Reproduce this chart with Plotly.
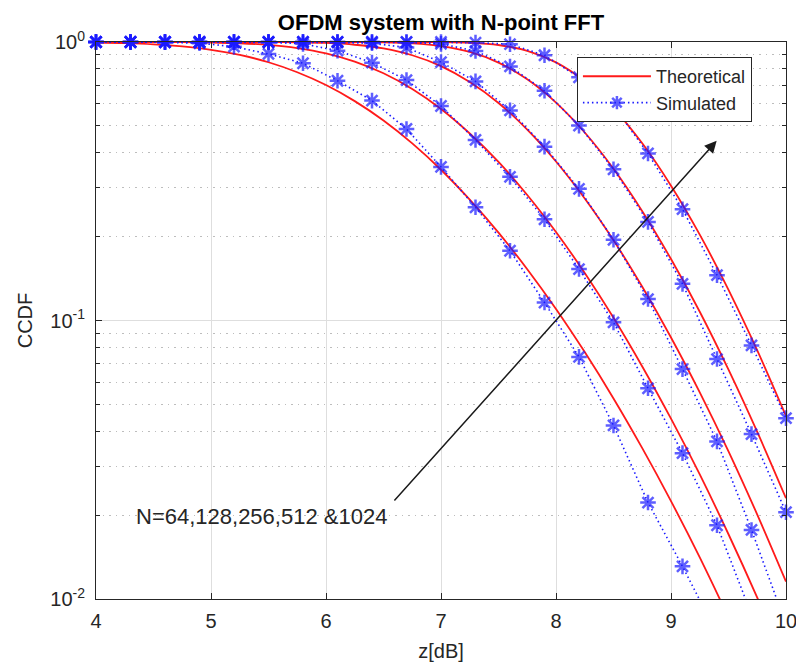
import plotly.graph_objects as go

# ---------------- data ----------------
z_theory = [4.0, 4.25, 4.5, 4.75, 5.0, 5.25, 5.5, 5.75, 6.0, 6.25, 6.5, 6.75, 7.0,
            7.25, 7.5, 7.75, 8.0, 8.25, 8.5, 8.75, 9.0, 9.25, 9.5, 9.75, 10.0]

theory_64 = [0.9955, 0.9903, 0.9806, 0.9637, 0.9371, 0.8984, 0.8459, 0.7787, 0.7006,
             0.6134, 0.5225, 0.4324, 0.3478, 0.2715, 0.2068, 0.1528, 0.1100, 0.0770,
             0.0525, 0.0348, 0.02246, 0.01411, 0.00857, 0.00507, 0.00290]
theory_128 = [1.0, 0.9999, 0.9996, 0.9987, 0.9960, 0.9897, 0.9763, 0.9511, 0.9105,
              0.8505, 0.7720, 0.6779, 0.5747, 0.4693, 0.3709, 0.2822, 0.2078, 0.1481,
              0.1023, 0.0684, 0.0444, 0.0280, 0.01708, 0.01011, 0.00579]
theory_256 = [1.0, 1.0, 1.0, 1.0, 1.0, 0.9999, 0.9994, 0.9976, 0.9920, 0.9777, 0.9481,
              0.8963, 0.8192, 0.7184, 0.6042, 0.4847, 0.3724, 0.2742, 0.1941, 0.1321,
              0.0869, 0.0552, 0.0339, 0.0201, 0.01155]
theory_512 = [1.0, 1.0, 1.0, 1.0, 1.0, 1.0, 1.0, 1.0, 0.9999, 0.9995, 0.9973, 0.9892,
              0.9673, 0.9207, 0.8433, 0.7345, 0.6062, 0.4732, 0.3505, 0.2468, 0.1662,
              0.1075, 0.0666, 0.0398, 0.0230]
theory_1024 = [1.0, 1.0, 1.0, 1.0, 1.0, 1.0, 1.0, 1.0, 1.0, 1.0, 1.0, 0.9999, 0.9989,
               0.9937, 0.9755, 0.9295, 0.8449, 0.7225, 0.5782, 0.4327, 0.3048, 0.2033,
               0.1288, 0.0781, 0.0454]

z_sim = [4.0, 4.3, 4.6, 4.9, 5.2, 5.5, 5.8, 6.1, 6.4, 6.7, 7.0, 7.3, 7.6, 7.9, 8.2,
         8.5, 8.8, 9.1, 9.4, 9.7, 10.0]

sim_64 = [1.0, 1.0, 0.998, 0.99, 0.962, 0.906, 0.839, 0.726, 0.616, 0.487, 0.356,
          0.255, 0.178, 0.116, 0.074, 0.042, 0.0222, 0.0131, 0.0075, 0.0036, 0.0017]
sim_128 = [1.0, 1.0, 1.0, 1.0, 0.999, 0.997, 0.985, 0.931, 0.843, 0.730, 0.589,
           0.445, 0.328, 0.231, 0.153, 0.0985, 0.0571, 0.0334, 0.0184, 0.0089, 0.0042]
sim_256 = [1.0, 1.0, 1.0, 1.0, 1.0, 1.0, 1.0, 0.998, 0.99, 0.955, 0.847, 0.722,
           0.568, 0.421, 0.297, 0.195, 0.1194, 0.0669, 0.0368, 0.0177, 0.0081]
sim_512 = [1.0, 1.0, 1.0, 1.0, 1.0, 1.0, 1.0, 1.0, 1.0, 0.998, 0.985, 0.928, 0.817,
           0.668, 0.501, 0.349, 0.226, 0.1354, 0.0727, 0.0391, 0.0205]
sim_1024 = [1.0, 1.0, 1.0, 1.0, 1.0, 1.0, 1.0, 1.0, 1.0, 1.0, 1.0, 0.995, 0.982,
            0.896, 0.747, 0.59, 0.398, 0.251, 0.1455, 0.0814, 0.0446]

fft_sizes = ["64", "128", "256", "512", "1024"]
theory_series = [theory_64, theory_128, theory_256, theory_512, theory_1024]
sim_series = [sim_64, sim_128, sim_256, sim_512, sim_1024]

x_ticks = [4, 5, 6, 7, 8, 9, 10]
y_ticks = [0.01, 0.1, 1]
y_ticktext = ["10<sup>-2</sup>", "10<sup>-1</sup>", "10<sup>0</sup>"]
y_minor = [0.02, 0.03, 0.04, 0.05, 0.06, 0.07, 0.08, 0.09,
           0.2, 0.3, 0.4, 0.5, 0.6, 0.7, 0.8, 0.9]

# ---------------- figure ----------------
FONT = "Liberation Sans, Arial, Helvetica, sans-serif"
TXT = "#262626"
Y_MIN = 0.01

fig = go.Figure()

for i, (n, vals) in enumerate(zip(fft_sizes, theory_series)):
    fig.add_trace(go.Scatter(
        x=z_theory, y=vals, mode="lines", name="Theoretical",
        legendgroup="theory", showlegend=(i == 0),
        line=dict(color="#ff1a1a", width=1.8, shape="spline", smoothing=0.8),
        hovertemplate="N=" + n + "<br>z=%{x} dB<br>CCDF=%{y}<extra>Theoretical</extra>",
    ))

for i, (n, vals) in enumerate(zip(fft_sizes, sim_series)):
    sizes = [13 if v >= Y_MIN else 0 for v in vals]
    fig.add_trace(go.Scatter(
        x=z_sim, y=vals, mode="lines+markers", name="Simulated",
        legendgroup="sim", showlegend=(i == 0), cliponaxis=False,
        line=dict(color="#1a1aff", width=1.6, dash="1.5px,3px"),
        marker=dict(symbol="asterisk-open", size=sizes,
                    line=dict(color="#0000ff", width=2.5)),
        hovertemplate="N=" + n + "<br>z=%{x} dB<br>CCDF=%{y}<extra>Simulated</extra>",
    ))

fig.update_layout(
    width=796, height=663,
    margin=dict(l=96, r=10, t=42, b=64, autoexpand=False),
    paper_bgcolor="white", plot_bgcolor="white",
    font=dict(family=FONT, size=20, color=TXT),
    title=dict(text="<b>OFDM system with N-point FFT</b>", x=0.5, xref="paper",
               xanchor="center", y=1 - 22 / 663, yref="container", yanchor="middle",
               font=dict(family=FONT, size=22, color="#000000")),
    showlegend=True,
    legend=dict(x=0.697, y=0.973, xanchor="left", yanchor="top",
                bgcolor="white", bordercolor="#262626", borderwidth=1,
                font=dict(family=FONT, size=18, color=TXT),
                tracegroupgap=0, itemwidth=68),
)

fig.update_xaxes(
    range=[4, 10], tickvals=x_ticks, ticks="inside", ticklen=6, tickwidth=1,
    tickcolor=TXT, showline=True, linecolor=TXT, linewidth=1, mirror="ticks",
    showgrid=True, gridcolor="#dedede", gridwidth=1, zeroline=False,
    tickfont=dict(family=FONT, size=20, color=TXT), ticklabeloverflow="allow",
    ticklabelstandoff=4,
    title=dict(text="z[dB]", standoff=12, font=dict(family=FONT, size=20, color=TXT)),
    automargin=False,
)

fig.update_yaxes(
    type="log", range=[-2, 0], tickvals=y_ticks, ticktext=y_ticktext,
    ticks="inside", ticklen=6, tickwidth=1, tickcolor=TXT,
    showline=True, linecolor=TXT, linewidth=1, mirror="ticks",
    showgrid=True, gridcolor="#dedede", gridwidth=1, zeroline=False,
    minor=dict(tickvals=y_minor, ticks="inside", ticklen=4, tickcolor=TXT,
               showgrid=True, gridcolor="#bdbdbd", griddash="1.5px,5px", gridwidth=1),
    tickfont=dict(family=FONT, size=20, color=TXT), ticklabeloverflow="allow",
    ticklabelstandoff=6,
    title=dict(text="CCDF", standoff=12, font=dict(family=FONT, size=20, color=TXT)),
    automargin=False,
)

# arrow indicating increasing N
fig.add_annotation(
    x=9.397, y=-0.355, ax=6.583, ay=-1.652, xref="x", yref="y", axref="x", ayref="y",
    showarrow=True, arrowhead=2, arrowsize=1.6, arrowwidth=1.5, arrowcolor="#1a1a1a",
    standoff=0, startstandoff=0, text="",
)
fig.add_annotation(
    x=5.435, y=-1.7045, xref="x", yref="y", showarrow=False,
    text="N=64,128,256,512 &1024", xanchor="center", yanchor="middle",
    font=dict(family=FONT, size=22, color=TXT),
)

fig.write_html("out.html")
